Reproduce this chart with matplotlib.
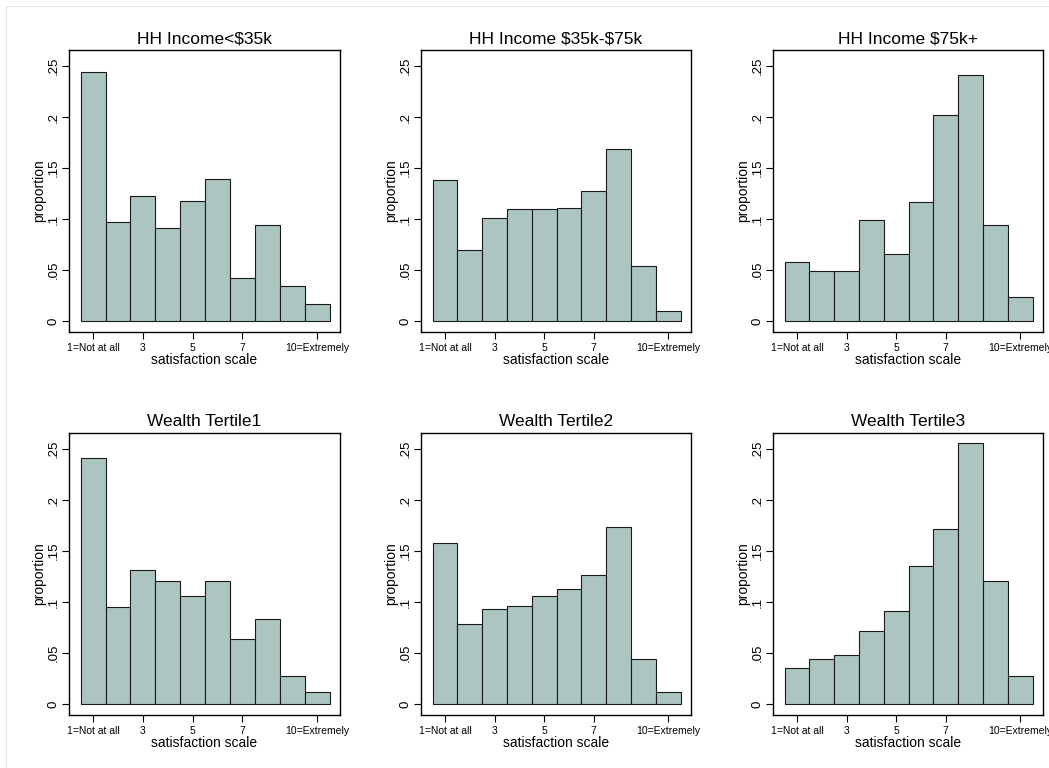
import matplotlib
matplotlib.use("Agg")
import matplotlib.pyplot as plt
from matplotlib.patches import Rectangle

plt.rcParams['font.family'] = ['Liberation Sans', 'DejaVu Sans']

# satisfaction scale categories 1..10
scale = [1, 2, 3, 4, 5, 6, 7, 8, 9, 10]
tick_pos = [1, 3, 5, 7, 10]
tick_labels = ['1=Not at all', '3', '5', '7', '10=Extremely']
ytick_pos = [0, 0.05, 0.10, 0.15, 0.20, 0.25]
ytick_labels = ['0', '.05', '.1', '.15', '.2', '.25']

titles = ['HH Income<\\$35k', 'HH Income \\$35k-\\$75k', 'HH Income \\$75k+',
          'Wealth Tertile1', 'Wealth Tertile2', 'Wealth Tertile3']

# proportions
inc_low = [0.244, 0.097, 0.123, 0.091, 0.118, 0.139, 0.042, 0.094, 0.034, 0.017]
inc_mid = [0.138, 0.070, 0.101, 0.110, 0.110, 0.111, 0.127, 0.169, 0.054, 0.010]
inc_high = [0.058, 0.049, 0.049, 0.099, 0.066, 0.117, 0.202, 0.241, 0.094, 0.024]
wealth1 = [0.241, 0.095, 0.131, 0.121, 0.106, 0.121, 0.064, 0.083, 0.027, 0.012]
wealth2 = [0.158, 0.078, 0.093, 0.096, 0.106, 0.113, 0.126, 0.174, 0.044, 0.012]
wealth3 = [0.035, 0.044, 0.048, 0.072, 0.091, 0.135, 0.172, 0.256, 0.121, 0.027]
panels = [inc_low, inc_mid, inc_high, wealth1, wealth2, wealth3]

W, H = 1049, 768
fig = plt.figure(figsize=(W / 100, H / 100), dpi=100)
fig.patch.set_facecolor('white')

# faint outer frame like the graph region border
fig.patches.append(Rectangle((6 / W, -0.1), 1.2, (H - 6) / H + 0.1,
                             transform=fig.transFigure, fill=False,
                             edgecolor='#e6e6e6', linewidth=0.8))

# axes boxes in pixels: left, top, right, bottom
cols = [(69, 340), (421, 691), (773, 1043)]
rows = [(50, 332), (433, 715)]

fill = '#adc5c1'
for i, vals in enumerate(panels):
    x0, x1 = cols[i % 3]
    y0, y1 = rows[i // 3]
    ax = fig.add_axes([x0 / W, (H - y1) / H, (x1 - x0) / W, (y1 - y0) / H])
    ax.bar(scale, vals, width=1.0, color=fill, edgecolor='#1a1a1a', linewidth=0.8)
    ax.set_xlim(0.03, 10.92)
    ax.set_ylim(-0.0108, 0.2657)
    ax.set_xticks(tick_pos)
    ax.set_xticklabels(tick_labels, fontsize=7.5)
    ax.set_yticks(ytick_pos)
    ax.set_yticklabels(ytick_labels, fontsize=9.5, rotation=90, va='center')
    ax.tick_params(length=5, width=0.8, pad=3, colors='black')
    ax.tick_params(axis='y', pad=2)
    for s in ax.spines.values():
        s.set_linewidth(1.0)
    ax.set_title(titles[i], fontsize=12.5, pad=5)
    ax.set_xlabel('satisfaction scale', fontsize=10, labelpad=0)
    ax.set_ylabel('proportion', fontsize=10, labelpad=1)

fig.savefig('out.png', dpi=100)
